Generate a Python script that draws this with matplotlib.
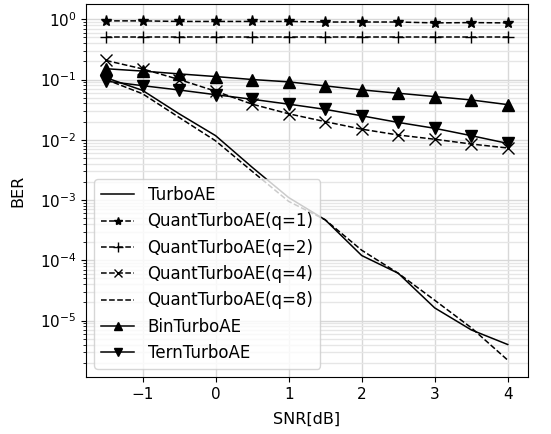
import matplotlib
matplotlib.use("Agg")
import matplotlib.pyplot as plt

snr = [-1.5, -1.0, -0.5, 0.0, 0.5, 1.0, 1.5, 2.0, 2.5, 3.0, 3.5, 4.0]

turboae = [0.107, 0.066, 0.027, 0.0117, 0.0035, 1.1e-3, 4.7e-4, 1.2e-4, 6.1e-5, 1.62e-5, 7.0e-6, 4.0e-6]
quant_q1 = [0.94, 0.94, 0.92, 0.92, 0.92, 0.92, 0.90, 0.90, 0.90, 0.87, 0.88, 0.87]
quant_q2 = [0.51, 0.51, 0.51, 0.51, 0.51, 0.51, 0.51, 0.51, 0.51, 0.51, 0.51, 0.51]
quant_q4 = [0.207, 0.15, 0.10, 0.064, 0.039, 0.027, 0.020, 0.015, 0.012, 0.0102, 0.0085, 0.0073]
quant_q8 = [0.10, 0.058, 0.0235, 0.0096, 0.0030, 9.5e-4, 4.7e-4, 1.47e-4, 6.1e-5, 2.17e-5, 7.6e-6, 2.2e-6]
bin_turboae = [0.151, 0.138, 0.124, 0.112, 0.100, 0.0914, 0.0784, 0.0673, 0.0592, 0.0521, 0.0458, 0.0383]
tern_turboae = [0.094, 0.079, 0.067, 0.056, 0.047, 0.039, 0.032, 0.025, 0.0194, 0.0155, 0.0117, 0.0087]

fig = plt.figure(figsize=(5.51, 4.34), dpi=100)
ax = fig.add_axes([0.156, 0.131, 0.802, 0.860])

lw = 1.1
ms = 8
ax.plot(snr, turboae, '-', color='black', lw=lw, label='TurboAE')
ax.plot(snr, quant_q1, '--', color='black', lw=lw, marker='*', ms=ms, label='QuantTurboAE(q=1)')
ax.plot(snr, quant_q2, '--', color='black', lw=lw, marker='+', ms=ms + 1, label='QuantTurboAE(q=2)')
ax.plot(snr, quant_q4, '--', color='black', lw=lw, marker='x', ms=ms, label='QuantTurboAE(q=4)')
ax.plot(snr, quant_q8, '--', color='black', lw=lw, label='QuantTurboAE(q=8)')
ax.plot(snr, bin_turboae, '-', color='black', lw=lw, marker='^', ms=ms, label='BinTurboAE')
ax.plot(snr, tern_turboae, '-', color='black', lw=lw, marker='v', ms=ms, label='TernTurboAE')

ax.set_yscale('log')
ax.set_xlabel('SNR[dB]', fontsize=11.5, labelpad=7)
ax.set_ylabel('BER', fontsize=11.5, labelpad=10)
ax.tick_params(labelsize=11)
ax.grid(True, which='major', color='#d8d8d8', lw=1.0)
ax.grid(True, which='minor', axis='y', color='#e6e6e6', lw=1.0)
ax.legend(loc='lower left', fontsize=12, markerscale=0.75)

fig.savefig('out.png', dpi=100)
